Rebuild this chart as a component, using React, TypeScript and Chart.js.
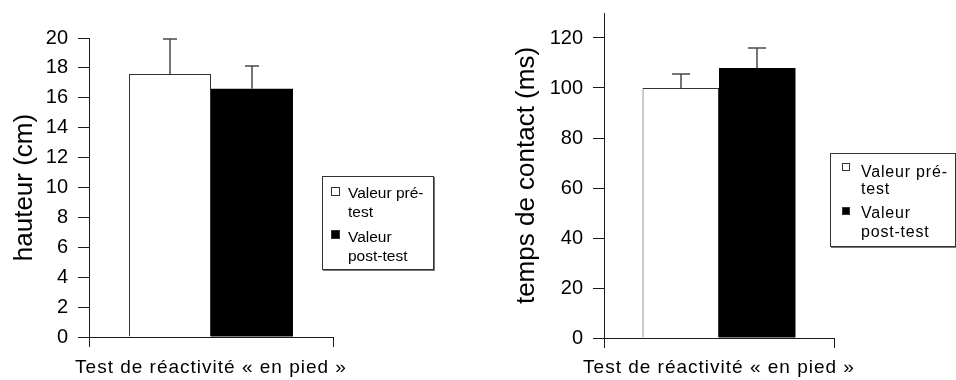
import React, { useEffect, useRef } from 'react';
import { Chart, registerables } from 'chart.js';

Chart.register(...registerables);

// ---------- data ----------
const categories = ['Test de réactivité « en pied »'];
const seriesLabels = ['Valeur pré-test', 'Valeur post-test'];
const legendLines = [
  ['Valeur pré-', 'test'],
  ['Valeur', 'post-test'],
];

const heightTitle = 'hauteur (cm)';
const heightValues = [17.6, 16.6]; // pre, post
const heightErrors = [2.3, 1.5];
const heightTicks = [0, 2, 4, 6, 8, 10, 12, 14, 16, 18, 20];

const contactTitle = 'temps de contact (ms)';
const contactValues = [100, 108]; // pre, post
const contactErrors = [5.5, 8];
const contactTicks = [0, 20, 40, 60, 80, 100, 120];

// ---------- styles ----------
const FONT = 'Arial, "Liberation Sans", Helvetica, sans-serif';
const AXIS = '#1a1a1a';
const fills = ['#ffffff', '#000000'];

const errorBarPlugin = {
  id: 'errorBars',
  afterDatasetsDraw(chart: any, _args: any, opts: any) {
    const { ctx } = chart;
    const yScale = chart.scales.y;
    ctx.save();
    ctx.strokeStyle = opts.color;
    ctx.lineWidth = opts.lineWidth;
    chart.data.datasets.forEach((ds: any, i: number) => {
      const meta = chart.getDatasetMeta(i);
      meta.data.forEach((bar: any, j: number) => {
        const v = ds.data[j];
        const e = opts.errors[i][j];
        const yTop = Math.round(yScale.getPixelForValue(v + e));
        const x = Math.round(bar.x);
        ctx.beginPath();
        ctx.moveTo(x, bar.y);
        ctx.lineTo(x, yTop);
        ctx.moveTo(x - opts.cap / 2, yTop);
        ctx.lineTo(x + opts.cap / 2, yTop);
        ctx.stroke();
      });
    });
    ctx.restore();
  },
};

const boxLegendPlugin = {
  id: 'boxLegend',
  afterDraw(chart: any, _args: any, o: any) {
    const { ctx } = chart;
    ctx.save();
    // shadow
    ctx.strokeStyle = '#777';
    ctx.lineWidth = 1;
    ctx.beginPath();
    ctx.moveTo(o.x + 1, o.y + o.h + 1.5);
    ctx.lineTo(o.x + o.w + 1.5, o.y + o.h + 1.5);
    ctx.lineTo(o.x + o.w + 1.5, o.y + 1);
    ctx.stroke();
    ctx.strokeStyle = '#333';
    ctx.strokeRect(o.x + 0.5, o.y + 0.5, o.w, o.h);
    ctx.font = o.font;
    (ctx as any).letterSpacing = o.letterSpacing || '0px';
    ctx.textAlign = 'left';
    ctx.textBaseline = 'alphabetic';
    chart.data.datasets.forEach((ds: any, i: number) => {
      const sq = o.squareSize;
      ctx.fillStyle = ds.backgroundColor;
      ctx.fillRect(o.x + o.squareX, o.y + o.squareTops[i], sq, sq);
      ctx.strokeStyle = '#333';
      ctx.strokeRect(o.x + o.squareX + 0.5, o.y + o.squareTops[i] + 0.5, sq - 1, sq - 1);
      ctx.fillStyle = '#000';
      o.lines[i].forEach((line: string, k: number) => {
        ctx.fillText(line, o.x + o.textX, o.y + o.baselines[i][k]);
      });
    });
    ctx.restore();
  },
};

const xLabelPlugin = {
  id: 'xLabel',
  afterDraw(chart: any, _args: any, o: any) {
    const { ctx } = chart;
    ctx.save();
    ctx.font = o.font;
    (ctx as any).letterSpacing = o.letterSpacing;
    ctx.fillStyle = '#000';
    ctx.textAlign = 'center';
    ctx.textBaseline = 'alphabetic';
    chart.data.labels.forEach((lab: string, i: number) => {
      const x = chart.scales.x.getPixelForValue(i);
      ctx.fillText(lab, x, o.baseline);
    });
    ctx.restore();
  },
};

function makeConfig(p: any): any {
  return {
    type: 'bar',
    data: {
      labels: categories,
      datasets: seriesLabels.map((label, i) => ({
        label,
        data: [p.values[i]],
        backgroundColor: fills[i],
        borderColor: i === 0 ? '#333' : '#000',
        borderWidth: i === 0 ? 1 : 0,
        barPercentage: 1,
        categoryPercentage: p.catPct,
      })),
    },
    options: {
      animation: false,
      responsive: false,
      layout: { padding: p.padding },
      plugins: {
        legend: { display: false },
        tooltip: { enabled: false },
        errorBars: { errors: p.errors.map((e: number) => [e]), cap: p.cap, color: '#4a4a4a', lineWidth: 1.5 },
        boxLegend: p.legend,
        xLabel: { font: `19px ${FONT}`, letterSpacing: '1px', baseline: p.xBaseline },
      },
      scales: {
        x: {
          ticks: { display: false },
          grid: { drawOnChartArea: false, drawTicks: true, tickLength: 10, color: AXIS, offset: true },
          border: { display: true, color: AXIS, width: 1 },
          afterFit: (s: any) => { s.height = p.xHeight; s.paddingLeft = 0; s.paddingRight = 0; },
        },
        y: {
          min: 0,
          max: p.max,
          afterBuildTicks: (s: any) => { s.ticks = p.ticks.map((v: number) => ({ value: v })); },
          ticks: { font: { family: FONT, size: 20 }, color: '#000', padding: 10 },
          grid: { drawOnChartArea: false, drawTicks: true, tickLength: 11, color: AXIS },
          border: { display: true, color: AXIS, width: 1 },
          title: {
            display: true,
            text: p.title,
            color: '#000',
            font: { family: FONT, size: 26 },
            padding: { top: p.titlePad, bottom: 0 },
          },
          afterFit: (s: any) => { s.width = p.yWidth; s.paddingTop = 0; s.paddingBottom = 0; },
        },
      },
    },
    plugins: [errorBarPlugin, boxLegendPlugin, xLabelPlugin],
  };
}

const leftParams = {
  values: heightValues,
  errors: heightErrors,
  ticks: heightTicks,
  max: 20,
  title: heightTitle,
  titlePad: 9,
  yWidth: 89,
  xHeight: 43,
  padding: { top: 38, right: 145, bottom: 0, left: 0 },
  catPct: 0.672,
  cap: 14,
  xBaseline: 373,
  legend: {
    x: 322, y: 176, w: 111, h: 93,
    font: `15.5px ${FONT}`, letterSpacing: '0px',
    squareX: 9, squareSize: 9, squareTops: [11, 54], textX: 26,
    baselines: [[22, 41], [66, 85]],
    lines: legendLines,
  },
};

const rightParams = {
  values: contactValues,
  errors: contactErrors,
  ticks: contactTicks,
  max: 130,
  title: contactTitle,
  titlePad: 33,
  yWidth: 126,
  xHeight: 42,
  padding: { top: 13, right: 122, bottom: 0, left: 0 },
  catPct: 0.665,
  cap: 18,
  xBaseline: 373,
  legend: {
    x: 352, y: 153, w: 125, h: 93,
    font: `16px ${FONT}`, letterSpacing: '0.8px',
    squareX: 12, squareSize: 8, squareTops: [10, 54], textX: 31,
    baselines: [[24, 41], [65, 84]],
    lines: legendLines,
  },
};

function Panel({ params, left }: { params: any; left: number }) {
  const ref = useRef<HTMLCanvasElement | null>(null);
  useEffect(() => {
    if (!ref.current) return;
    const chart = new Chart(ref.current, makeConfig(params));
    return () => chart.destroy();
  }, [params]);
  return (
    <canvas
      ref={ref}
      width={478}
      height={380}
      style={{ position: 'absolute', left, top: 0, width: 478, height: 380 }}
    />
  );
}

export default function App() {
  return (
    <div style={{ position: 'fixed', left: 0, top: 0, width: 956, height: 380, background: '#fff' }}>
      <Panel params={leftParams} left={0} />
      <Panel params={rightParams} left={478} />
    </div>
  );
}
